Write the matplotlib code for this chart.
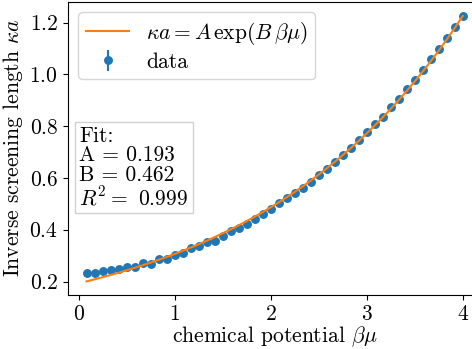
import numpy as np
import matplotlib
matplotlib.use("Agg")
import matplotlib.pyplot as plt

plt.rcParams['font.family'] = 'serif'
plt.rcParams['font.serif'] = ['cmr10']
plt.rcParams['mathtext.fontset'] = 'cm'
plt.rcParams['axes.unicode_minus'] = False
plt.rcParams['axes.formatter.use_mathtext'] = True
plt.rcParams['font.size'] = 15.5

# data
k = np.arange(1, 49)
beta_mu = k / 12.0
kappa_a = [0.232, 0.233, 0.241, 0.245, 0.250, 0.258, 0.258, 0.271, 0.269, 0.288,
           0.286, 0.303, 0.309, 0.328, 0.339, 0.351, 0.358, 0.377, 0.395, 0.408,
           0.421, 0.443, 0.462, 0.480, 0.505, 0.522, 0.541, 0.561, 0.584, 0.611,
           0.635, 0.661, 0.689, 0.716, 0.746, 0.776, 0.810, 0.837, 0.872, 0.906,
           0.942, 0.978, 1.015, 1.059, 1.098, 1.139, 1.184, 1.227]
err = [0.002] * len(kappa_a)

A = 0.193
B = 0.462
R2 = 0.999

fig = plt.figure(figsize=(4.72, 3.49), dpi=100)
ax = fig.add_axes([67.7/472, (349-294.7)/349, (481.5-67.7)/472, (294.7-1.7)/349])

fit = A * np.exp(B * beta_mu)
ax.plot(beta_mu, fit, color='tab:orange', lw=1.5,
        label=r'$\kappa a = A\,\exp(B\,\beta\mu)$', zorder=3)
ax.errorbar(beta_mu, kappa_a, yerr=err, fmt='o', color='tab:blue',
            markersize=5.4, label='data', zorder=2)

ax.set_xlabel(r'chemical potential $\beta\mu$')
ax.set_ylabel(r'Inverse screening length $\kappa a$')
ax.set_xticks([0, 1, 2, 3, 4])
ax.set_yticks([0.2, 0.4, 0.6, 0.8, 1.0, 1.2])

ax.legend(loc='upper left', borderaxespad=0.5, labelspacing=0.25,
          borderpad=0.35)

txt = 'Fit:\nA = %.3f\nB = %.3f\n$R^2 =$ %.3f' % (A, B, R2)
ax.text(0.028, 0.575, txt, transform=ax.transAxes, va='top', ha='left',
        linespacing=1.0,
        bbox=dict(boxstyle='square,pad=0.2', facecolor='white',
                  edgecolor='0.8', alpha=0.9))

ax.xaxis.set_label_coords(0.5, -0.1)
ax.yaxis.set_label_coords(-0.103, 0.5)

fig.savefig('out.png', dpi=100)
